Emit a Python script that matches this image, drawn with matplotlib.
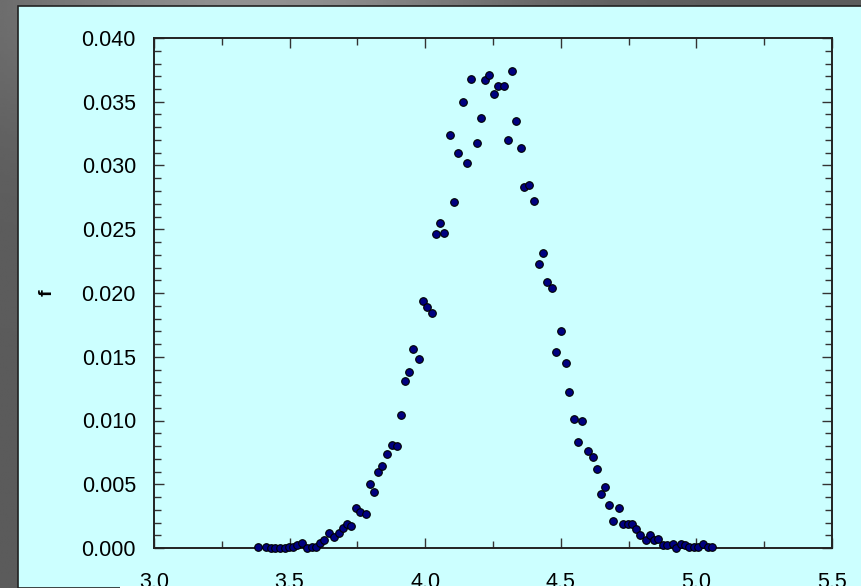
import numpy as np
import matplotlib
matplotlib.use("Agg")
import matplotlib.pyplot as plt
from matplotlib.patches import Rectangle
from matplotlib.ticker import MultipleLocator, FormatStrFormatter

plt.rcParams['font.family'] = ['Liberation Sans', 'DejaVu Sans']

x = [3.385, 3.414, 3.433, 3.446, 3.464, 3.482, 3.499, 3.514, 3.529, 3.547,
     3.566, 3.583, 3.597, 3.611, 3.628, 3.645, 3.665, 3.681, 3.696, 3.712,
     3.728, 3.744, 3.761, 3.781, 3.795, 3.811, 3.827, 3.842, 3.858, 3.879,
     3.895, 3.909, 3.925, 3.941, 3.956, 3.978, 3.993, 4.008, 4.025, 4.039,
     4.054, 4.071, 4.092, 4.107, 4.122, 4.139, 4.153, 4.169, 4.190, 4.206,
     4.221, 4.237, 4.252, 4.267, 4.289, 4.304, 4.320, 4.336, 4.352, 4.366,
     4.382, 4.403, 4.419, 4.434, 4.450, 4.466, 4.482, 4.501, 4.518, 4.532,
     4.549, 4.564, 4.580, 4.601, 4.617, 4.632, 4.647, 4.663, 4.678, 4.694,
     4.714, 4.729, 4.746, 4.761, 4.777, 4.793, 4.814, 4.828, 4.844, 4.860,
     4.876, 4.891, 4.913, 4.926, 4.944, 4.958, 4.973, 4.990, 5.006, 5.026,
     5.042, 5.059]
f = [0.0001, 0.0001, 0.0000, 0.0000, 0.0000, 0.0000, 0.0001, 0.0001, 0.0002, 0.0004,
     0.0000, 0.0001, 0.0001, 0.0004, 0.0006, 0.0012, 0.0009, 0.0012, 0.0016, 0.0019,
     0.0017, 0.0031, 0.0028, 0.0027, 0.0050, 0.0044, 0.0060, 0.0064, 0.0074, 0.0081,
     0.0080, 0.0104, 0.0131, 0.0138, 0.0156, 0.0148, 0.0194, 0.0189, 0.0184, 0.0246,
     0.0255, 0.0247, 0.0324, 0.0271, 0.0310, 0.0350, 0.0302, 0.0368, 0.0318, 0.0337,
     0.0367, 0.0371, 0.0356, 0.0362, 0.0362, 0.0320, 0.0374, 0.0335, 0.0314, 0.0283,
     0.0285, 0.0272, 0.0223, 0.0231, 0.0209, 0.0204, 0.0154, 0.0170, 0.0145, 0.0122,
     0.0101, 0.0083, 0.0100, 0.0076, 0.0071, 0.0062, 0.0042, 0.0048, 0.0034, 0.0021,
     0.0031, 0.0019, 0.0019, 0.0019, 0.0015, 0.0010, 0.0006, 0.0010, 0.0006, 0.0007,
     0.0002, 0.0002, 0.0003, 0.0000, 0.0003, 0.0002, 0.0001, 0.0001, 0.0001, 0.0003,
     0.0001, 0.0001]

W, H = 861, 588
fig = plt.figure(figsize=(W / 100, H / 100), dpi=100)

# gray backdrop, a little lighter near the top middle
bg = fig.add_axes([0, 0, 1, 1], zorder=-10)
gx, gy = np.meshgrid(np.linspace(0, 1, 300), np.linspace(0, 1, 200))
glow = np.exp(-((gx - 0.3) ** 2) / 0.08 - (gy ** 2) / 0.05)
bg.imshow(glow, cmap='gray', vmin=-1.71, vmax=3.05, aspect='auto',
          extent=[0, 1, 0, 1], origin='upper')
bg.set_axis_off()

fig.patches.append(Rectangle((18 / W, 0), 1, 1 - 6 / H, transform=fig.transFigure,
                             facecolor='#ccffff', edgecolor='#222222', lw=1.2, zorder=-5))

ax = fig.add_axes([154 / W, 40 / H, 678 / W, 510 / H])
ax.set_facecolor('#ccffff')
ax.scatter(x, f, s=30, color='#000080', edgecolors='black', linewidths=0.8,
           zorder=3, clip_on=False)

ax.set_xlim(3.0, 5.5)
ax.set_ylim(0.0, 0.040)
ax.xaxis.set_major_locator(MultipleLocator(0.5))
ax.xaxis.set_minor_locator(MultipleLocator(0.25))
ax.yaxis.set_major_locator(MultipleLocator(0.005))
ax.yaxis.set_minor_locator(MultipleLocator(0.001))
ax.xaxis.set_major_formatter(FormatStrFormatter('%.1f'))
ax.yaxis.set_major_formatter(FormatStrFormatter('%.3f'))
ax.tick_params(which='both', direction='in', top=True, right=True, width=1,
               color='#333333', labelsize=15.5)
ax.tick_params(which='major', length=7)
ax.tick_params(which='minor', length=5)
ax.tick_params(axis='y', pad=13)
ax.tick_params(axis='x', pad=17)
for s in ax.spines.values():
    s.set_linewidth(1.4)
    s.set_color('#222222')

ax.set_ylabel('f', fontsize=14, fontweight='bold')
ax.yaxis.set_label_coords(-0.145, 0.5)

fig.patches.append(Rectangle((120 / W, 0), 1, 2 / H, transform=fig.transFigure,
                             facecolor='white', edgecolor='none', zorder=10))

fig.savefig('out.png', dpi=100, facecolor='#5e5d62')
